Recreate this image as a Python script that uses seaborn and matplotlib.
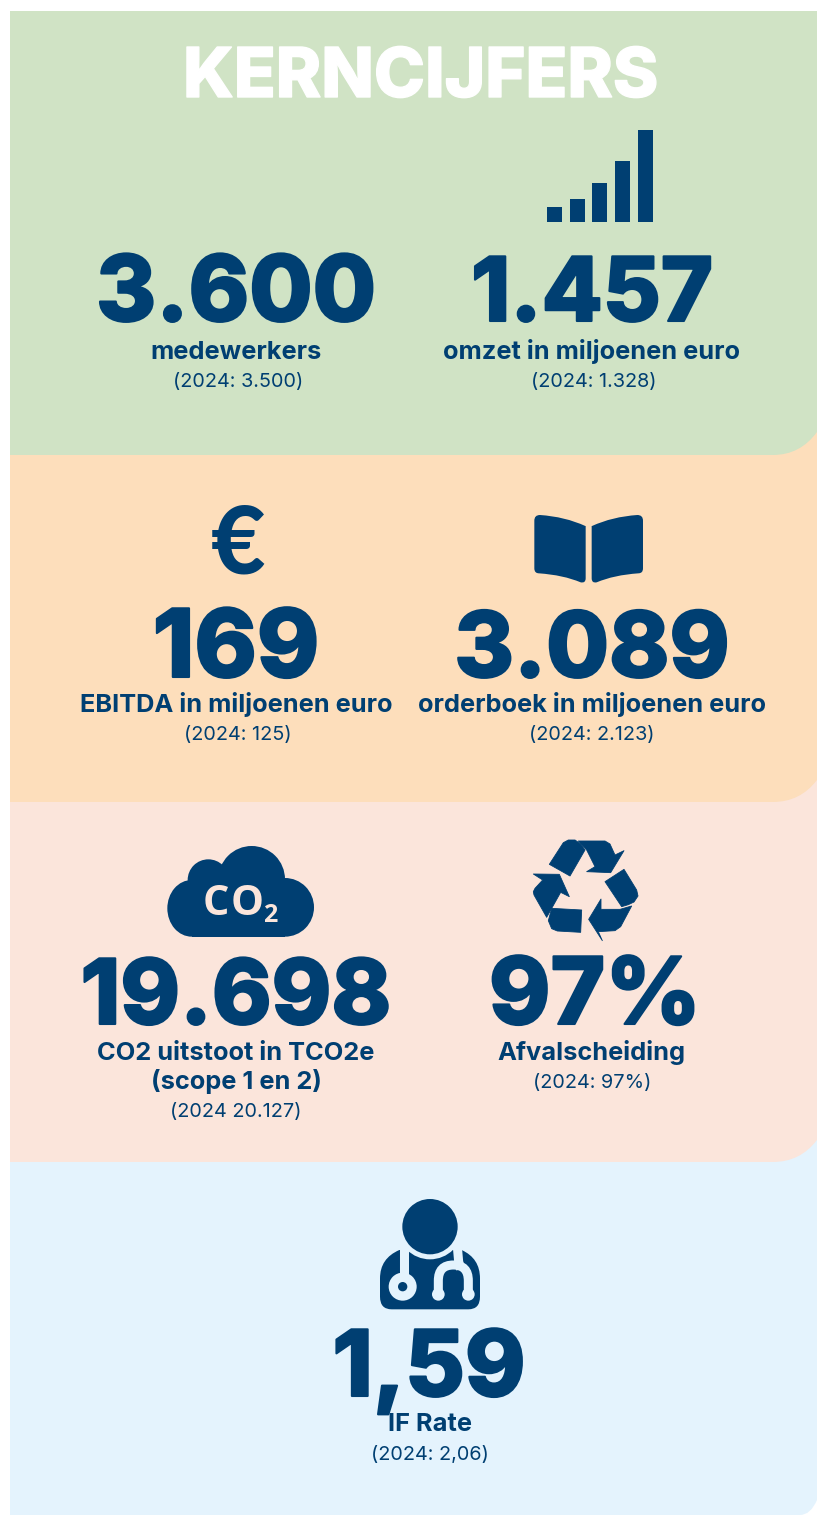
import matplotlib.pyplot as plt
import matplotlib.patheffects as pe
import seaborn as sns
from matplotlib.patches import Circle, Ellipse, PathPatch, Polygon, Rectangle
from matplotlib.path import Path

NAVY = '#003F72'
GREEN = '#D0E3C5'
ORANGE = '#FDDEBB'
PINK = '#FBE5DB'
BLUE = '#E4F3FD'
W, H = 817, 1515

title = 'KERNCIJFERS'
big_numbers = ['3.600', '1.457', '169', '3.089', '19.698', '97%', '1,59']
labels = ['medewerkers', 'omzet in miljoenen euro', 'EBITDA in miljoenen euro',
          'orderboek in miljoenen euro', 'CO2 uitstoot in TCO2e\n(scope 1 en 2)',
          'Afvalscheiding', 'IF Rate']
previous = ['(2024: 3.500)', '(2024: 1.328)', '(2024: 125)', '(2024: 2.123)',
            '(2024 20.127)', '(2024: 97%)', '(2024: 2,06)']
signal_bars = ['a', 'b', 'c', 'd', 'e']
signal_heights = [15, 23, 39, 61, 92]

# center x of number, label, previous year, then baselines of the same three
slots = [(236, 236, 238, 321, 359, 387), (592, 592, 594, 321, 359, 387),
         (236, 236, 238, 677, 712, 740), (592, 592, 592, 677, 712, 740),
         (236, 236, 236, 1024, 1060, 1117), (595, 591, 592, 1024, 1060, 1088),
         (429, 430, 430, 1396, 1431, 1460)]
number_sizes = [66, 64, 68, 65.5, 65, 67, 66]


def panel(ax, bottom, color, x0, y0, top=11):
    verts = [(10, top), (W, top), (W, y0), (x0 + (W - x0) * 0.62, bottom), (x0, bottom),
             (10, bottom), (10, top)]
    codes = [Path.MOVETO, Path.LINETO, Path.LINETO, Path.CURVE3, Path.CURVE3,
             Path.LINETO, Path.CLOSEPOLY]
    ax.add_patch(PathPatch(Path(verts, codes), fc=color, ec='none'))


def shape(ax, pts, x0, y0, color=NAVY):
    xy = [(x0 + x / 3, y0 + y / 3) for x, y in pts]
    ax.add_patch(Polygon(xy, closed=True, fc=color, ec=color, lw=0.6, joinstyle='round'))


def draw_book(ax):
    for flip in [False, True]:
        pts = [(1033, 62), (1033, 45), (1050, 45), (1125, 50), (1186, 78), (1187, 78),
               (1187, 235), (1187, 250), (1172, 247), (1120, 225), (1047, 220),
               (1033, 220), (1033, 205), (1033, 62)]
        codes = [Path.MOVETO, Path.CURVE3, Path.CURVE3, Path.CURVE3, Path.CURVE3, Path.LINETO,
                 Path.LINETO, Path.CURVE3, Path.CURVE3, Path.CURVE3, Path.CURVE3,
                 Path.CURVE3, Path.CURVE3, Path.CLOSEPOLY]
        if flip:
            pts = [(2392 - x, y) for x, y in pts]
        xy = [(190 + x / 3, 500 + y / 3) for x, y in pts]
        ax.add_patch(PathPatch(Path(xy, codes), fc=NAVY, ec='none'))


def draw_cloud(ax):
    ox, oy = 150, 830
    ax.add_patch(Circle((ox + 305 / 3, oy + 148 / 3), 100 / 3, fc=NAVY, ec='none'))
    ax.add_patch(Circle((ox + 175 / 3, oy + 150 / 3), 62 / 3, fc=NAVY, ec='none'))
    ax.add_patch(Ellipse((ox + 125 / 3, oy + 235 / 3), 146 / 3, 170 / 3, fc=NAVY, ec='none'))
    ax.add_patch(Ellipse((ox + 405 / 3, oy + 232 / 3), 174 / 3, 176 / 3, fc=NAVY, ec='none'))
    ax.add_patch(Rectangle((ox + 125 / 3, oy + 190 / 3), 280 / 3, 130 / 3, fc=NAVY, ec='none'))
    ax.text(ox + 198 / 3, oy + 254 / 3, 'C', color=PINK, fontsize=30, ha='center', va='baseline',
            fontfamily='Open Sans', fontweight='bold')
    ax.text(ox + 290 / 3, oy + 254 / 3, 'O', color=PINK, fontsize=30, ha='center', va='baseline',
            fontfamily='Open Sans', fontweight='bold')
    ax.text(ox + 361 / 3, oy + 275 / 3, '2', color=PINK, fontsize=18, ha='center', va='baseline',
            fontfamily='Open Sans', fontweight='bold')


def draw_recycle(ax):
    ox, oy = 150, 830
    pieces = [
        [(1198, 103), (1240, 38), (1255, 30), (1275, 30), (1292, 42), (1305, 60), (1260, 138)],
        [(1285, 33), (1365, 33), (1380, 42), (1395, 75), (1422, 62), (1382, 128), (1310, 125),
         (1335, 110), (1310, 60)],
        [(1365, 155), (1422, 118), (1460, 180), (1464, 198), (1452, 216), (1435, 224), (1415, 230)],
        [(1445, 228), (1412, 290), (1395, 302), (1345, 305), (1357, 332), (1316, 268), (1353, 207),
         (1353, 238), (1410, 238)],
        [(1205, 235), (1295, 240), (1292, 307), (1222, 303), (1205, 296), (1195, 272)],
        [(1150, 132), (1228, 133), (1258, 200), (1232, 187), (1190, 262), (1152, 195), (1150, 185),
         (1155, 175), (1178, 150)],
    ]
    for p in pieces:
        shape(ax, p, ox, oy)


def draw_doctor(ax):
    ox, oy = 340, 1190
    body = [(178, 180), (120, 205), (120, 265), (120, 320), (120, 358), (155, 358), (385, 358),
            (420, 358), (420, 320), (420, 265), (420, 205), (365, 180), (178, 180)]
    codes = [Path.MOVETO, Path.CURVE3, Path.CURVE3, Path.LINETO, Path.CURVE3, Path.CURVE3,
             Path.LINETO, Path.CURVE3, Path.CURVE3, Path.LINETO, Path.CURVE3, Path.CURVE3,
             Path.CLOSEPOLY]
    xy = [(ox + x / 3, oy + y / 3) for x, y in body]
    ax.add_patch(PathPatch(Path(xy, codes), fc=NAVY, ec='none'))
    ax.add_patch(Circle((ox + 270 / 3, oy + 110 / 3), 98 / 3, fc=BLUE, ec='none'))
    ax.add_patch(Circle((ox + 270 / 3, oy + 110 / 3), 83 / 3, fc=NAVY, ec='none'))
    # stethoscope, left tube and ring
    ax.plot([ox + 191 / 3, ox + 191 / 3], [oy + 170 / 3, oy + 262 / 3], color=BLUE, lw=6.5,
            solid_capstyle='butt')
    ax.add_patch(Circle((ox + 188 / 3, oy + 290 / 3), 42 / 3, fc=BLUE, ec='none'))
    ax.add_patch(Circle((ox + 188 / 3, oy + 290 / 3), 14 / 3, fc=NAVY, ec='none'))
    # right tube and arch
    tube = [(352, 170), (356, 215), (362, 238)]
    ax.plot([ox + x / 3 for x, y in tube], [oy + y / 3 for x, y in tube], color=BLUE, lw=6.5,
            solid_capstyle='butt')
    arch = [(295, 315), (295, 272), (295, 225), (340, 225), (385, 225), (385, 272), (385, 315)]
    arch_codes = [Path.MOVETO, Path.LINETO, Path.CURVE3, Path.CURVE3, Path.CURVE3, Path.CURVE3,
                  Path.LINETO]
    xy = [(ox + x / 3, oy + y / 3) for x, y in arch]
    ax.add_patch(PathPatch(Path(xy, arch_codes), fc='none', ec=BLUE, lw=6.5))
    for x in [295, 385]:
        ax.add_patch(Circle((ox + x / 3, oy + 313 / 3), 19 / 3, fc=BLUE, ec='none'))


if __name__ == '__main__':
    sns.set_theme(style='white')
    plt.rcParams['font.family'] = ['Inter', 'DejaVu Sans']

    fig = plt.figure(figsize=(W / 100, H / 100), dpi=100, facecolor='white')
    ax = fig.add_axes([0, 0, 1, 1])
    ax.set_xlim(0, W)
    ax.set_ylim(H, 0)
    ax.axis('off')

    panel(ax, 1515, BLUE, 800, 1500, top=1100)
    panel(ax, 1162, PINK, 773, 1140, top=760)
    panel(ax, 802, ORANGE, 773, 780, top=400)
    panel(ax, 455, GREEN, 773, 432)

    ax.text(420.5, 97, title, color='white', fontsize=49.5, fontweight='heavy', ha='center',
            va='baseline', path_effects=[pe.withStroke(linewidth=1, foreground='white')])

    for slot, num, size, lab, prev in zip(slots, big_numbers, number_sizes, labels, previous):
        x_num, x_lab, x_prev, y_num, y_lab, y_prev = slot
        ax.text(x_num, y_num, num, color=NAVY, fontsize=size, fontweight='heavy', ha='center',
                va='baseline', path_effects=[pe.withStroke(linewidth=1.5, foreground=NAVY)])
        for i, line in enumerate(lab.split('\n')):
            ax.text(x_lab, y_lab + i * 29, line, color=NAVY, fontsize=18.3, fontweight='bold',
                    ha='center', va='baseline')
        ax.text(x_prev, y_prev, prev, color=NAVY, fontsize=14.3, ha='center', va='baseline')

    ax.text(238, 574, '€', color=NAVY, fontsize=68, fontweight='black', ha='center', va='baseline',
            fontfamily='Lato')
    draw_book(ax)
    draw_cloud(ax)
    draw_recycle(ax)
    draw_doctor(ax)

    # signal icon is a real bar chart
    bar_ax = fig.add_axes([543.1 / W, 1 - 221.7 / H, 113.5 / W, 91.7 / H])
    bar_ax.patch.set_alpha(0)
    sns.barplot(x=signal_bars, y=signal_heights, color=NAVY, width=0.66, saturation=1, linewidth=0,
                ax=bar_ax)
    bar_ax.set_xlim(-0.5, 4.5)
    bar_ax.set_ylim(0, 92)
    bar_ax.axis('off')

    fig.savefig('out.png', dpi=100)
